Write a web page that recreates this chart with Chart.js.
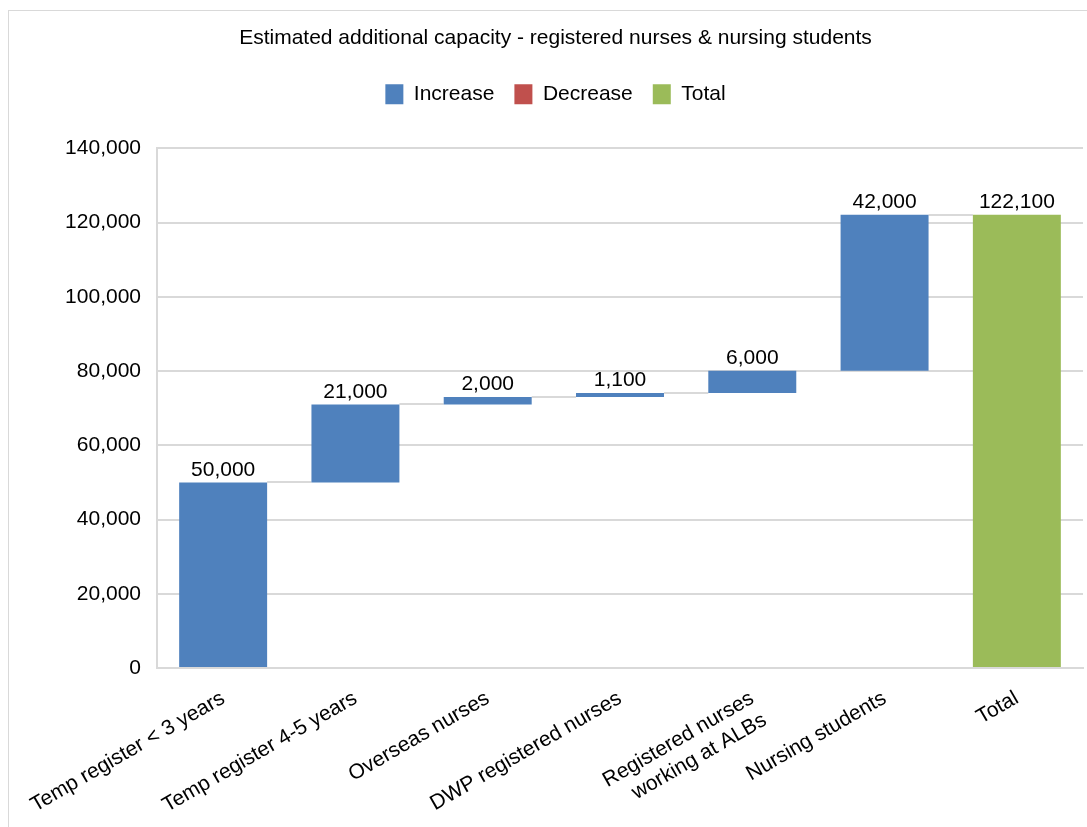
<!DOCTYPE html>
<html lang="en">
<head>
<meta charset="UTF-8">
<title>Estimated additional capacity</title>
<script src="https://cdn.jsdelivr.net/npm/chart.js"></script>
<style>
  body { margin: 0; background: #fff; overflow: hidden; }
  .frame { position: absolute; left: 8px; top: 10px; width: 1200px; height: 1000px; border: 1px solid #d9d9d9; }
  .wrap { position: absolute; left: 0; top: 0; width: 1087px; height: 827px; }
</style>
</head>
<body>
<div class="frame"></div>
<div class="wrap"><canvas id="waterfall"></canvas></div>
<script>
const categories = [
  'Temp register < 3 years',
  'Temp register 4-5 years',
  'Overseas nurses',
  'DWP registered nurses',
  ['Registered nurses', 'working at ALBs'],
  'Nursing students',
  'Total'
];
const increases = [50000, 21000, 2000, 1100, 6000, 42000, null];
const decreases = [null, null, null, null, null, null, null];
const totals = [null, null, null, null, null, null, 122100];
const yTicks = [0, 20000, 40000, 60000, 80000, 100000, 120000, 140000];

const fmt = v => v.toLocaleString('en-US');

// running level -> floating [start, end] ranges for each bar
const incRanges = [], decRanges = [], totRanges = [], levels = [], amounts = [];
let level = 0;
for (let i = 0; i < categories.length; i++) {
  incRanges.push(null); decRanges.push(null); totRanges.push(null);
  if (increases[i] != null) {
    incRanges[i] = [level, level + increases[i]];
    level += increases[i];
    amounts[i] = increases[i];
  } else if (decreases[i] != null) {
    decRanges[i] = [level - decreases[i], level];
    level -= decreases[i];
    amounts[i] = decreases[i];
  } else if (totals[i] != null) {
    totRanges[i] = [0, totals[i]];
    level = totals[i];
    amounts[i] = totals[i];
  }
  levels.push(level);
}

function barAt(chart, i) {
  for (let d = 0; d < chart.data.datasets.length; d++) {
    if (chart.data.datasets[d].data[i] != null) return chart.getDatasetMeta(d).data[i];
  }
  return null;
}

// thin grey steps joining one bar to the next
const connectors = {
  id: 'connectors',
  beforeDatasetsDraw(chart) {
    const ctx = chart.ctx, y = chart.scales.y;
    ctx.save();
    ctx.strokeStyle = '#d9d9d9';
    ctx.lineWidth = 2;
    for (let i = 0; i < categories.length - 1; i++) {
      const a = barAt(chart, i), b = barAt(chart, i + 1);
      if (!a || !b) continue;
      const py = Math.round(y.getPixelForValue(levels[i]));
      ctx.beginPath();
      ctx.moveTo(a.x + a.width / 2, py);
      ctx.lineTo(b.x - b.width / 2, py);
      ctx.stroke();
    }
    ctx.restore();
  }
};

// amount written above each bar
const valueLabels = {
  id: 'valueLabels',
  afterDatasetsDraw(chart) {
    const ctx = chart.ctx;
    ctx.save();
    ctx.font = '21px "Liberation Sans", Arial, sans-serif';
    ctx.fillStyle = '#000';
    ctx.textAlign = 'center';
    ctx.textBaseline = 'bottom';
    for (let i = 0; i < categories.length; i++) {
      const el = barAt(chart, i);
      if (!el) continue;
      ctx.fillText(fmt(amounts[i]), el.x, Math.min(el.y, el.base) - 2);
    }
    ctx.restore();
  }
};

// extra room between legend and plot
const legendGap = {
  id: 'legendGap',
  beforeLayout(chart) {
    const lg = chart.legend;
    if (lg && !lg._gapWrapped) {
      const fit = lg.fit;
      lg.fit = function () { fit.call(this); this.height += 33.5; };
      lg._gapWrapped = true;
    }
  }
};

Chart.defaults.font.family = '"Liberation Sans", Arial, sans-serif';
Chart.defaults.color = '#000';

new Chart(document.getElementById('waterfall'), {
  type: 'bar',
  data: {
    labels: categories,
    datasets: [
      { label: 'Increase', data: incRanges, backgroundColor: '#4f81bd' },
      { label: 'Decrease', data: decRanges, backgroundColor: '#c0504d' },
      { label: 'Total', data: totRanges, backgroundColor: '#9bbb59' }
    ]
  },
  options: {
    responsive: true,
    maintainAspectRatio: false,
    animation: false,
    layout: { padding: { top: 10, left: 28, right: 4, bottom: 0 } },
    datasets: { bar: { grouped: false, barPercentage: 0.665, categoryPercentage: 1 } },
    plugins: {
      title: {
        display: true,
        text: 'Estimated additional capacity - registered nurses & nursing students',
        font: { size: 21, weight: 'normal' },
        padding: { top: 16, bottom: 12.6 }
      },
      legend: {
        labels: { boxWidth: 18, boxHeight: 20, padding: 20, font: { size: 21 } }
      },
      tooltip: { enabled: false }
    },
    scales: {
      x: {
        grid: { display: false, drawTicks: false },
        border: { color: '#d9d9d9', width: 2 },
        ticks: { minRotation: 30, maxRotation: 30, autoSkip: false, padding: 18, font: { size: 21 } },
        afterFit(scale) { scale.height = 159; }
      },
      y: {
        min: 0,
        max: 140000,
        afterBuildTicks(scale) { scale.ticks = yTicks.map(v => ({ value: v })); },
        grid: { color: '#d9d9d9', lineWidth: 2, drawTicks: false },
        border: { color: '#d9d9d9', width: 2 },
        ticks: { padding: 16, font: { size: 21 }, callback: v => fmt(v) },
        afterFit(scale) { scale.width = 129; }
      }
    }
  },
  plugins: [connectors, valueLabels, legendGap]
});
</script>
</body>
</html>
